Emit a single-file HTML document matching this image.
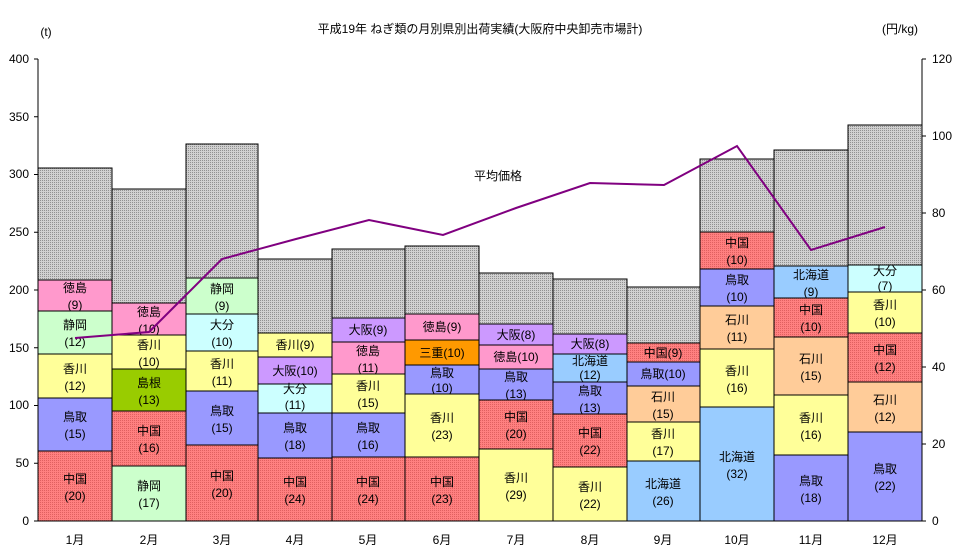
<!DOCTYPE html><html><head><meta charset="utf-8"><style>body{margin:0;background:#fff}svg{display:block}text{font-family:"Liberation Sans","Noto Sans CJK JP",sans-serif;font-size:12px;fill:#000;text-anchor:middle}</style></head><body>
<svg width="960" height="558" xmlns="http://www.w3.org/2000/svg">
<defs>
<pattern id="g" width="2" height="2" patternUnits="userSpaceOnUse"><rect width="2" height="2" fill="#d0d0d0"/><rect width="1" height="1" fill="#909090"/></pattern>
<pattern id="r" width="2" height="2" patternUnits="userSpaceOnUse"><rect width="2" height="2" fill="#ff8080"/><rect width="1" height="1" fill="#e06060"/></pattern>
</defs>
<text x="480" y="33" font-size="13">平成19年 ねぎ類の月別県別出荷実績(大阪府中央卸売市場計)</text>
<text x="46" y="36" font-size="10">(t)</text>
<text x="900" y="33" font-size="11">(円/kg)</text>
<g stroke="#000" stroke-width="1">
<rect x="38" y="451" width="74" height="70" fill="url(#r)"/>
<rect x="38" y="398" width="74" height="53" fill="#9999ff"/>
<rect x="38" y="354" width="74" height="44" fill="#ffff99"/>
<rect x="38" y="311" width="74" height="43" fill="#ccffcc"/>
<rect x="38" y="280" width="74" height="31" fill="#ff99cc"/>
<rect x="38" y="168" width="74" height="112" fill="url(#g)"/>
<rect x="112" y="466" width="74" height="55" fill="#ccffcc"/>
<rect x="112" y="411" width="74" height="55" fill="url(#r)"/>
<rect x="112" y="369" width="74" height="42" fill="#99cc00"/>
<rect x="112" y="335" width="74" height="34" fill="#ffff99"/>
<rect x="112" y="303" width="74" height="32" fill="#ff99cc"/>
<rect x="112" y="189" width="74" height="114" fill="url(#g)"/>
<rect x="186" y="445" width="72" height="76" fill="url(#r)"/>
<rect x="186" y="391" width="72" height="54" fill="#9999ff"/>
<rect x="186" y="351" width="72" height="40" fill="#ffff99"/>
<rect x="186" y="314" width="72" height="37" fill="#ccffff"/>
<rect x="186" y="278" width="72" height="36" fill="#ccffcc"/>
<rect x="186" y="144" width="72" height="134" fill="url(#g)"/>
<rect x="258" y="458" width="74" height="63" fill="url(#r)"/>
<rect x="258" y="413" width="74" height="45" fill="#9999ff"/>
<rect x="258" y="384" width="74" height="29" fill="#ccffff"/>
<rect x="258" y="357" width="74" height="27" fill="#cc99ff"/>
<rect x="258" y="333" width="74" height="24" fill="#ffff99"/>
<rect x="258" y="259" width="74" height="74" fill="url(#g)"/>
<rect x="332" y="457" width="73" height="64" fill="url(#r)"/>
<rect x="332" y="413" width="73" height="44" fill="#9999ff"/>
<rect x="332" y="374" width="73" height="39" fill="#ffff99"/>
<rect x="332" y="342" width="73" height="32" fill="#ff99cc"/>
<rect x="332" y="318" width="73" height="24" fill="#cc99ff"/>
<rect x="332" y="249" width="73" height="69" fill="url(#g)"/>
<rect x="405" y="457" width="74" height="64" fill="url(#r)"/>
<rect x="405" y="394" width="74" height="63" fill="#ffff99"/>
<rect x="405" y="365" width="74" height="29" fill="#9999ff"/>
<rect x="405" y="340" width="74" height="25" fill="#ff9900"/>
<rect x="405" y="314" width="74" height="26" fill="#ff99cc"/>
<rect x="405" y="246" width="74" height="68" fill="url(#g)"/>
<rect x="479" y="449" width="74" height="72" fill="#ffff99"/>
<rect x="479" y="400" width="74" height="49" fill="url(#r)"/>
<rect x="479" y="369" width="74" height="31" fill="#9999ff"/>
<rect x="479" y="345" width="74" height="24" fill="#ff99cc"/>
<rect x="479" y="324" width="74" height="21" fill="#cc99ff"/>
<rect x="479" y="273" width="74" height="51" fill="url(#g)"/>
<rect x="553" y="467" width="74" height="54" fill="#ffff99"/>
<rect x="553" y="414" width="74" height="53" fill="url(#r)"/>
<rect x="553" y="382" width="74" height="32" fill="#9999ff"/>
<rect x="553" y="354" width="74" height="28" fill="#99ccff"/>
<rect x="553" y="334" width="74" height="20" fill="#cc99ff"/>
<rect x="553" y="279" width="74" height="55" fill="url(#g)"/>
<rect x="627" y="461" width="73" height="60" fill="#99ccff"/>
<rect x="627" y="422" width="73" height="39" fill="#ffff99"/>
<rect x="627" y="386" width="73" height="36" fill="#ffcc99"/>
<rect x="627" y="362" width="73" height="24" fill="#9999ff"/>
<rect x="627" y="343" width="73" height="19" fill="url(#r)"/>
<rect x="627" y="287" width="73" height="56" fill="url(#g)"/>
<rect x="700" y="407" width="74" height="114" fill="#99ccff"/>
<rect x="700" y="349" width="74" height="58" fill="#ffff99"/>
<rect x="700" y="306" width="74" height="43" fill="#ffcc99"/>
<rect x="700" y="269" width="74" height="37" fill="#9999ff"/>
<rect x="700" y="232" width="74" height="37" fill="url(#r)"/>
<rect x="700" y="159" width="74" height="73" fill="url(#g)"/>
<rect x="774" y="455" width="74" height="66" fill="#9999ff"/>
<rect x="774" y="395" width="74" height="60" fill="#ffff99"/>
<rect x="774" y="337" width="74" height="58" fill="#ffcc99"/>
<rect x="774" y="298" width="74" height="39" fill="url(#r)"/>
<rect x="774" y="266" width="74" height="32" fill="#99ccff"/>
<rect x="774" y="150" width="74" height="116" fill="url(#g)"/>
<rect x="848" y="432" width="74" height="89" fill="#9999ff"/>
<rect x="848" y="382" width="74" height="50" fill="#ffcc99"/>
<rect x="848" y="333" width="74" height="49" fill="url(#r)"/>
<rect x="848" y="292" width="74" height="41" fill="#ffff99"/>
<rect x="848" y="265" width="74" height="27" fill="#ccffff"/>
<rect x="848" y="125" width="74" height="140" fill="url(#g)"/>
</g>
<g>
<text x="75" y="483">中国</text><text x="75" y="500">(20)</text>
<text x="75" y="421">鳥取</text><text x="75" y="438">(15)</text>
<text x="75" y="373">香川</text><text x="75" y="390">(12)</text>
<text x="75" y="329">静岡</text><text x="75" y="346">(12)</text>
<text x="75" y="292">徳島</text><text x="75" y="309">(9)</text>
<text x="149" y="490">静岡</text><text x="149" y="507">(17)</text>
<text x="149" y="435">中国</text><text x="149" y="452">(16)</text>
<text x="149" y="387">島根</text><text x="149" y="404">(13)</text>
<text x="149" y="349">香川</text><text x="149" y="366">(10)</text>
<text x="149" y="316">徳島</text><text x="149" y="333">(10)</text>
<text x="222" y="480">中国</text><text x="222" y="497">(20)</text>
<text x="222" y="415">鳥取</text><text x="222" y="432">(15)</text>
<text x="222" y="368">香川</text><text x="222" y="385">(11)</text>
<text x="222" y="329">大分</text><text x="222" y="346">(10)</text>
<text x="222" y="293">静岡</text><text x="222" y="310">(9)</text>
<text x="295" y="486">中国</text><text x="295" y="503">(24)</text>
<text x="295" y="432">鳥取</text><text x="295" y="449">(18)</text>
<text x="295" y="393">大分</text><text x="295" y="409">(11)</text>
<text x="295" y="375">大阪(10)</text>
<text x="295" y="349">香川(9)</text>
<text x="368" y="486">中国</text><text x="368" y="503">(24)</text>
<text x="368" y="432">鳥取</text><text x="368" y="449">(16)</text>
<text x="368" y="390">香川</text><text x="368" y="407">(15)</text>
<text x="368" y="355">徳島</text><text x="368" y="372">(11)</text>
<text x="368" y="334">大阪(9)</text>
<text x="442" y="486">中国</text><text x="442" y="503">(23)</text>
<text x="442" y="422">香川</text><text x="442" y="439">(23)</text>
<text x="442" y="377">鳥取</text><text x="442" y="392">(10)</text>
<text x="442" y="357">三重(10)</text>
<text x="442" y="331">徳島(9)</text>
<text x="516" y="482">香川</text><text x="516" y="499">(29)</text>
<text x="516" y="421">中国</text><text x="516" y="438">(20)</text>
<text x="516" y="381">鳥取</text><text x="516" y="398">(13)</text>
<text x="516" y="361">徳島(10)</text>
<text x="516" y="339">大阪(8)</text>
<text x="590" y="491">香川</text><text x="590" y="508">(22)</text>
<text x="590" y="437">中国</text><text x="590" y="454">(22)</text>
<text x="590" y="395">鳥取</text><text x="590" y="412">(13)</text>
<text x="590" y="365">北海道</text><text x="590" y="379">(12)</text>
<text x="590" y="348">大阪(8)</text>
<text x="663" y="488">北海道</text><text x="663" y="505">(26)</text>
<text x="663" y="438">香川</text><text x="663" y="455">(17)</text>
<text x="663" y="401">石川</text><text x="663" y="418">(15)</text>
<text x="663" y="378">鳥取(10)</text>
<text x="663" y="357">中国(9)</text>
<text x="737" y="461">北海道</text><text x="737" y="478">(32)</text>
<text x="737" y="375">香川</text><text x="737" y="392">(16)</text>
<text x="737" y="324">石川</text><text x="737" y="341">(11)</text>
<text x="737" y="284">鳥取</text><text x="737" y="301">(10)</text>
<text x="737" y="247">中国</text><text x="737" y="264">(10)</text>
<text x="811" y="485">鳥取</text><text x="811" y="502">(18)</text>
<text x="811" y="422">香川</text><text x="811" y="439">(16)</text>
<text x="811" y="363">石川</text><text x="811" y="380">(15)</text>
<text x="811" y="314">中国</text><text x="811" y="331">(10)</text>
<text x="811" y="279">北海道</text><text x="811" y="296">(9)</text>
<text x="885" y="473">鳥取</text><text x="885" y="490">(22)</text>
<text x="885" y="404">石川</text><text x="885" y="421">(12)</text>
<text x="885" y="354">中国</text><text x="885" y="371">(12)</text>
<text x="885" y="309">香川</text><text x="885" y="326">(10)</text>
<text x="885" y="275">大分</text><text x="885" y="290">(7)</text>
</g>
<polyline points="75,338 149,332 222,259 296,239 369,220 443,235 516,208 590,183 664,185 737,146 811,250 885,227" fill="none" stroke="#800080" stroke-width="2"/>
<text x="498" y="180">平均価格</text>
<g stroke="#000">
<line x1="38" y1="59" x2="38" y2="521"/><line x1="922" y1="59" x2="922" y2="521"/><line x1="38" y1="521" x2="922" y2="521"/>
<line x1="34" y1="521" x2="38" y2="521"/><line x1="34" y1="463.25" x2="38" y2="463.25"/><line x1="34" y1="405.5" x2="38" y2="405.5"/><line x1="34" y1="347.75" x2="38" y2="347.75"/><line x1="34" y1="290" x2="38" y2="290"/><line x1="34" y1="232.25" x2="38" y2="232.25"/><line x1="34" y1="174.5" x2="38" y2="174.5"/><line x1="34" y1="116.75" x2="38" y2="116.75"/><line x1="34" y1="59" x2="38" y2="59"/>
<line x1="922" y1="521" x2="926" y2="521"/><line x1="922" y1="444" x2="926" y2="444"/><line x1="922" y1="367" x2="926" y2="367"/><line x1="922" y1="290" x2="926" y2="290"/><line x1="922" y1="213" x2="926" y2="213"/><line x1="922" y1="136" x2="926" y2="136"/><line x1="922" y1="59" x2="926" y2="59"/>
</g>
<g font-size="11">
<text x="29" y="525" style="text-anchor:end">0</text><text x="29" y="467" style="text-anchor:end">50</text><text x="29" y="409" style="text-anchor:end">100</text><text x="29" y="352" style="text-anchor:end">150</text><text x="29" y="294" style="text-anchor:end">200</text><text x="29" y="236" style="text-anchor:end">250</text><text x="29" y="178" style="text-anchor:end">300</text><text x="29" y="121" style="text-anchor:end">350</text><text x="29" y="63" style="text-anchor:end">400</text>
</g>
<g font-size="11">
<text x="932" y="525" style="text-anchor:start">0</text><text x="932" y="448" style="text-anchor:start">20</text><text x="932" y="371" style="text-anchor:start">40</text><text x="932" y="294" style="text-anchor:start">60</text><text x="932" y="217" style="text-anchor:start">80</text><text x="932" y="140" style="text-anchor:start">100</text><text x="932" y="63" style="text-anchor:start">120</text>
</g>
<g font-size="11">
<text x="75" y="544">1月</text><text x="149" y="544">2月</text><text x="222" y="544">3月</text><text x="295" y="544">4月</text><text x="368" y="544">5月</text><text x="442" y="544">6月</text><text x="516" y="544">7月</text><text x="590" y="544">8月</text><text x="663" y="544">9月</text><text x="737" y="544">10月</text><text x="811" y="544">11月</text><text x="885" y="544">12月</text>
</g>
</svg></body></html>
